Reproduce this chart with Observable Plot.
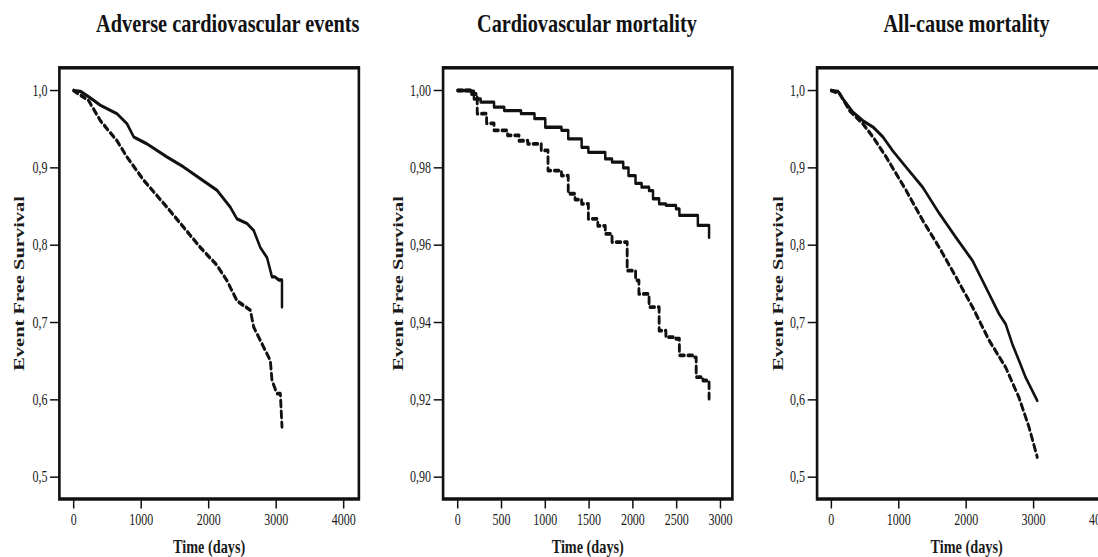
<!DOCTYPE html>
<html><head><meta charset="utf-8">
<script src="https://cdn.jsdelivr.net/npm/d3@7"></script>
<script src="https://cdn.jsdelivr.net/npm/@observablehq/plot@0.6"></script>
<style>
html,body{margin:0;padding:0;background:#fff;width:1098px;height:557px;overflow:hidden;}
#wrap{position:relative;width:1098px;height:557px;overflow:hidden;}
.panel{position:absolute;top:50px;transform:scaleX(0.75);transform-origin:0 0;}
.panel svg{display:block;max-width:none;}
.title{position:absolute;top:11px;font-family:"Liberation Serif",serif;font-weight:bold;font-size:26px;line-height:26px;text-align:center;color:#111;white-space:nowrap;}
.title span{display:inline-block;transform:scaleX(0.78);}
svg text{fill:#1a1a1a;}
g[aria-label="x-axis label"]{font-size:19px;font-weight:bold;}
g[aria-label="y-axis label"]{font-size:20.5px;font-weight:bold;}
</style>
</head><body><div id="wrap"></div>
<script>
// ---- Titles & labels ----
const titles = ["Adverse cardiovascular events", "Cardiovascular mortality", "All-cause mortality"];
const xLabel = "Time (days)";
const yLabel = "Event Free Survival";

// ---- Tick values ----
const xTicksLong = [0, 1000, 2000, 3000, 4000];
const xTicksCV = [0, 500, 1000, 1500, 2000, 2500, 3000];
const yTicksLong = [0.5, 0.6, 0.7, 0.8, 0.9, 1.0];
const yTicksCV = [0.90, 0.92, 0.94, 0.96, 0.98, 1.00];

// ---- Adverse cardiovascular events ----
const aceSolidTime = [0,100,222,395,642,790,889,1086,1383,1630,1877,2123,2321,2420,2568,2667,2765,2864,2938,2980,3040,3086,3086];
const aceSolidSurv = [1.000,0.999,0.992,0.981,0.970,0.957,0.940,0.931,0.914,0.901,0.886,0.871,0.849,0.834,0.828,0.819,0.797,0.784,0.759,0.759,0.755,0.755,0.720];
const aceDashTime = [0,222,395,642,790,1037,1383,1630,1877,2123,2272,2420,2617,2667,2815,2913,2938,3012,3062,3086];
const aceDashSurv = [1.000,0.987,0.961,0.935,0.914,0.884,0.849,0.823,0.797,0.774,0.754,0.728,0.716,0.694,0.668,0.651,0.625,0.608,0.608,0.565];

// ---- Cardiovascular mortality ----
const cvSolidTime = [0,146,185,262,415,531,723,877,1000,1185,1262,1415,1492,1685,1762,1890,1950,2030,2100,2185,2230,2300,2377,2492,2531,2723,2742,2838,2870];
const cvSolidSurv = [1.0,0.9998,0.9978,0.997,0.9957,0.9948,0.994,0.9927,0.9905,0.9897,0.9875,0.9853,0.984,0.9823,0.9815,0.98,0.978,0.976,0.975,0.9741,0.972,0.9707,0.9703,0.9694,0.9677,0.9677,0.9651,0.9651,0.962];
const cvDashTime = [0,146,223,330,415,569,700,800,954,1031,1185,1262,1340,1415,1492,1600,1685,1762,1935,2031,2069,2185,2300,2377,2492,2531,2685,2723,2800,2870];
const cvDashSurv = [1.0,0.9991,0.994,0.9915,0.9897,0.9884,0.987,0.9862,0.9845,0.9793,0.978,0.9733,0.9718,0.9707,0.9668,0.965,0.9629,0.9608,0.9534,0.9509,0.9474,0.944,0.9379,0.9362,0.9358,0.9315,0.931,0.9259,0.925,0.9203];

// ---- All-cause mortality ----
const acmSolidTime = [0,99,172,320,468,616,764,911,1108,1355,1601,1847,2094,2340,2488,2586,2685,2783,2882,2980,3054];
const acmSolidSurv = [1.000,0.999,0.989,0.972,0.961,0.953,0.940,0.922,0.901,0.875,0.841,0.810,0.780,0.737,0.711,0.698,0.672,0.651,0.629,0.612,0.599];
const acmDashTime = [0,123,271,468,616,813,1108,1355,1601,1847,2094,2340,2586,2783,2931,3054];
const acmDashSurv = [1.000,0.996,0.974,0.957,0.940,0.914,0.871,0.832,0.797,0.759,0.720,0.677,0.642,0.603,0.565,0.526];

const toRows = (T, S) => T.map((t, i) => ({t, s: S[i]}));

// The whole figure is horizontally condensed (as in the reference) by SX.
const SX = 0.75;
const panels = [
  {title: titles[0], left: 0, width: 370, ml: 59, mr: 11.5, xd: [-212, 4225], yd: [0.4718, 1.0294],
   xt: xTicksLong, yt: yTicksLong, dec: 1, curve: "linear", yoff: 46,
   solid: toRows(aceSolidTime, aceSolidSurv), dash: toRows(aceDashTime, aceDashSurv)},
  {title: titles[1], left: 370, width: 370, ml: 72.7, mr: 8, xd: [-167, 3136], yd: [0.89436, 1.00587],
   xt: xTicksCV, yt: yTicksCV, dec: 2, curve: "step-after", yoff: 51,
   solid: toRows(cvSolidTime, cvSolidSurv), dash: toRows(cvDashTime, cvDashSurv)},
  {title: titles[2], left: 740, width: 390, ml: 76.7, mr: 14.2, xd: [-212, 4225], yd: [0.4718, 1.0294],
   xt: xTicksLong, yt: yTicksLong, dec: 1, curve: "linear", yoff: 45,
   solid: toRows(acmSolidTime, acmSolidSurv), dash: toRows(acmDashTime, acmDashSurv)}
];

const wrap = document.getElementById("wrap");
const H = 507, MT = 17.3, MB = 58.5;

panels.forEach(p => {
  const svg = Plot.plot({
    width: p.width / SX, height: H,
    marginLeft: p.ml / SX, marginRight: p.mr / SX, marginTop: MT, marginBottom: MB,
    style: {fontFamily: "Liberation Serif, serif", fontSize: "16px", background: "transparent", overflow: "visible", color: "#111", maxWidth: "none"},
    x: {domain: p.xd},
    y: {domain: p.yd},
    marks: [
      Plot.axisX(p.xt, {tickSize: 10, tickPadding: 5, strokeWidth: 2, tickFormat: d => String(d),
        label: xLabel, labelAnchor: "center", labelArrow: false, labelOffset: 54}),
      Plot.axisY(p.yt, {tickSize: 12, tickPadding: 4, strokeWidth: 1.5, tickFormat: d => d.toFixed(p.dec).replace(".", ","),
        label: yLabel, labelAnchor: "center", labelArrow: false, labelOffset: p.yoff / SX}),
      Plot.line(p.solid, {x: "t", y: "s", curve: p.curve, stroke: "#111", strokeWidth: 3.3}),
      Plot.line(p.dash, {x: "t", y: "s", curve: p.curve, stroke: "#111", strokeWidth: 3.8, strokeDasharray: "6,5"}),
      Plot.frame({stroke: "#111", strokeWidth: 3.5})
    ]
  });
  const div = document.createElement("div");
  div.className = "panel";
  div.style.left = p.left + "px";
  div.style.width = (p.width / SX) + "px";
  div.appendChild(svg);
  wrap.appendChild(div);
  const t = document.createElement("div");
  t.className = "title";
  t.style.left = (p.left + p.ml) + "px";
  t.style.width = (p.width - p.ml - p.mr) + "px";
  const span = document.createElement("span");
  span.textContent = p.title;
  t.appendChild(span);
  wrap.appendChild(t);
});
</script>
</body></html>
